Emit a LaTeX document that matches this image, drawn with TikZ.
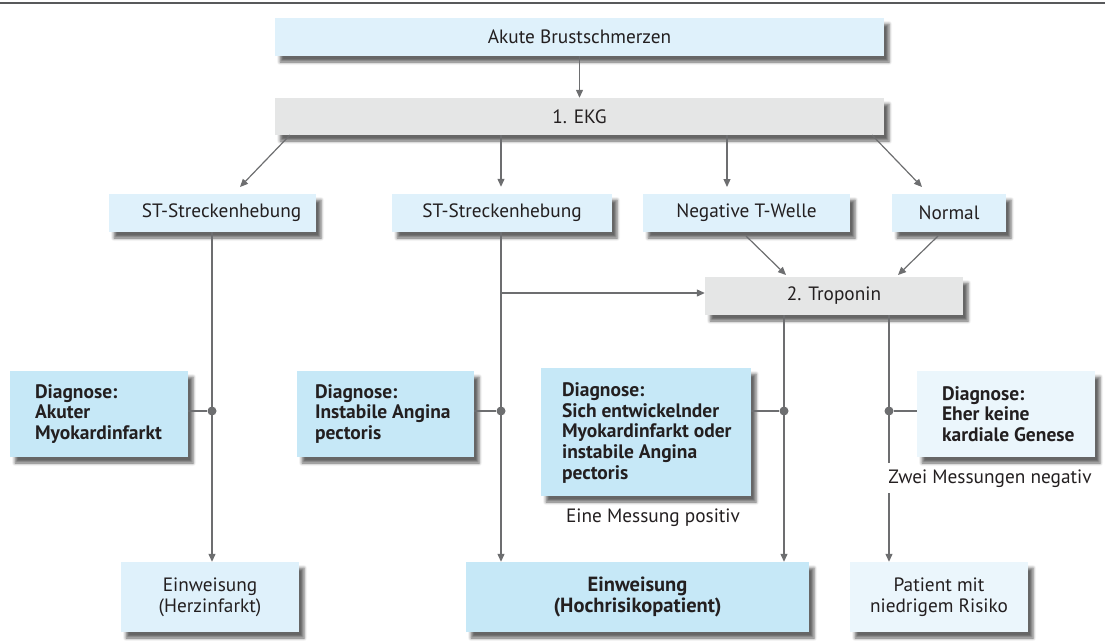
\documentclass[tikz,border=0pt]{standalone}
\usepackage{fontspec}
\setmainfont{PT Sans}
\usetikzlibrary{arrows.meta,shadows.blur,calc}

\definecolor{boxblue}{HTML}{DFF1FB}
\definecolor{diagblue}{HTML}{C6E8F7}
\definecolor{paleblue}{HTML}{EBF6FC}
\definecolor{boxgray}{HTML}{E5E6E6}
\definecolor{linegray}{HTML}{6D6E70}
\definecolor{textdark}{HTML}{231F20}
\definecolor{rulegray}{HTML}{58595B}

\tikzset{
  card/.style={rectangle, inner sep=0pt, text=textdark, align=center,
    blur shadow={shadow xshift=5pt, shadow yshift=-6pt, shadow blur radius=3pt, shadow opacity=60},
    font=\fontsize{19.3}{21}\selectfont},
  lightcard/.style={card, fill=boxblue},
  graycard/.style={card, fill=boxgray},
  strongcard/.style={card, fill=diagblue},
  palecard/.style={card, fill=paleblue},
  diagtext/.style={anchor=west, align=left, inner sep=0pt, text=textdark,
    font=\fontsize{19.5}{20.8}\selectfont\bfseries},
  link/.style={draw=linegray, line width=1.2pt},
  arrow/.style={link, -{Triangle[length=8pt,width=7pt]}},
  junction/.style={circle, fill=linegray, inner sep=0pt, minimum size=9pt},
  note/.style={text=textdark, font=\fontsize{19.3}{21}\selectfont, inner sep=0pt},
}

\begin{document}
\begin{tikzpicture}[x=1pt,y=-1pt]
\useasboundingbox (0,0) rectangle (1105,640);

% header rule
\draw[rulegray, line width=2pt] (0,3) -- (1105,3);

% first level
\node[lightcard, minimum width=609, minimum height=38] (akute) at (579.5,37) {Akute Brustschmerzen};
\node[graycard, minimum width=609, minimum height=37] (ekg) at (579.5,116.5) {1. EKG};

% ECG findings
\node[lightcard, minimum width=207, minimum height=38] (st1) at (212.5,213) {\hspace*{18pt}ST-Streckenhebung};
\node[lightcard, minimum width=220, minimum height=38] (st2) at (502,213) {ST-Streckenhebung};
\node[lightcard, minimum width=207, minimum height=38] (neg) at (746.5,213) {Negative T-Welle};
\node[lightcard, minimum width=114, minimum height=38] (normal) at (949,213) {Normal};

\node[graycard, minimum width=258, minimum height=38] (trop) at (834,296) {2. Troponin};

% diagnoses
\node[strongcard, minimum width=178, minimum height=86] (diag1) at (99,414) {};
\node[diagtext] (diag1t) at ($(diag1.west)+(25,0)$) {Diagnose:\\Akuter\\Myokardinfarkt};
\node[strongcard, minimum width=177, minimum height=86] (diag2) at (385.5,414) {};
\node[diagtext] (diag2t) at ($(diag2.west)+(18,0)$) {Diagnose:\\Instabile Angina\\pectoris};
\node[strongcard, minimum width=210, minimum height=128] (diag3) at (646,432) {};
\node[diagtext] (diag3t) at ($(diag3.west)+(21,1)$) {Diagnose:\\Sich entwickelnder\\Myokardinfarkt oder\\instabile Angina\\pectoris};
\node[palecard, minimum width=178, minimum height=86] (diag4) at (1006,414) {};
\node[diagtext] (diag4t) at ($(diag4.west)+(25,0)$) {Diagnose:\\Eher keine\\kardiale Genese};

% outcomes
\node[lightcard, minimum width=178, minimum height=70] (einw1) at (210,597) {Einweisung\\(Herzinfarkt)};
\node[strongcard, minimum width=343, minimum height=70, font=\fontsize{20.5}{21}\selectfont\bfseries] (hoch) at (637.5,597) {Einweisung\\(Hochrisikopatient)};
\node[palecard, minimum width=178, minimum height=70] (patient) at (939,597) {Patient mit\\niedrigem Risiko};

% edge labels
\node[note] (pos) at (653,518) {Eine Messung positiv};
\node[note] (negm) at (990,479) {Zwei Messungen negativ};

% junction dots
\node[junction] (j1) at (212,411) {};
\node[junction] (j2) at (501,411) {};
\node[junction] (j3) at (784,411) {};
\node[junction] (j4) at (889,411) {};

% branch points on the ECG box and arrow ends
\coordinate (e1) at (290,135);
\coordinate (e4) at (872,135);
\coordinate (s1in) at (240,187);
\coordinate (nin) at (922,187);
\coordinate (negout) at (746,236);
\coordinate (normout) at (938,236);
\coordinate (tin1) at (786,275);
\coordinate (tin2) at (898,275);
\coordinate (gaptop) at (889,463);
\coordinate (gapbot) at (889,493);

\draw[arrow] (akute.south) -- (ekg.north);
\draw[arrow] (e1) -- (s1in);
\draw[arrow] (j2 |- ekg.south) -- ($(j2 |- st2.north)+(0,-7)$);
\draw[arrow] (727,135) -- (727,187);
\draw[arrow] (e4) -- (nin);
\draw[arrow] (negout) -- (tin1);
\draw[arrow] (normout) -- (tin2);

% left column
\draw[arrow] (j1 |- st1.south) -- (j1 |- einw1.north);
\draw[link] (diag1.east |- j1) -- (j1);

% second column
\draw[arrow] (j2 |- st2.south) -- (j2 |- hoch.north);
\draw[arrow] ($(j2 |- trop.west)+(0,-3)$) -- ($(trop.west)+(0,-3)$);
\draw[link] (diag2.east |- j2) -- (j2);

% troponin branches
\draw[arrow] (j3 |- trop.south) -- (j3 |- hoch.north);
\draw[link] (diag3.east |- j3) -- (j3);
\draw[link] (j4 |- trop.south) -- (gaptop);
\draw[arrow] (gapbot) -- (j4 |- patient.north);
\draw[link] (j4) -- (diag4.west |- j4);

\end{tikzpicture}
\end{document}
